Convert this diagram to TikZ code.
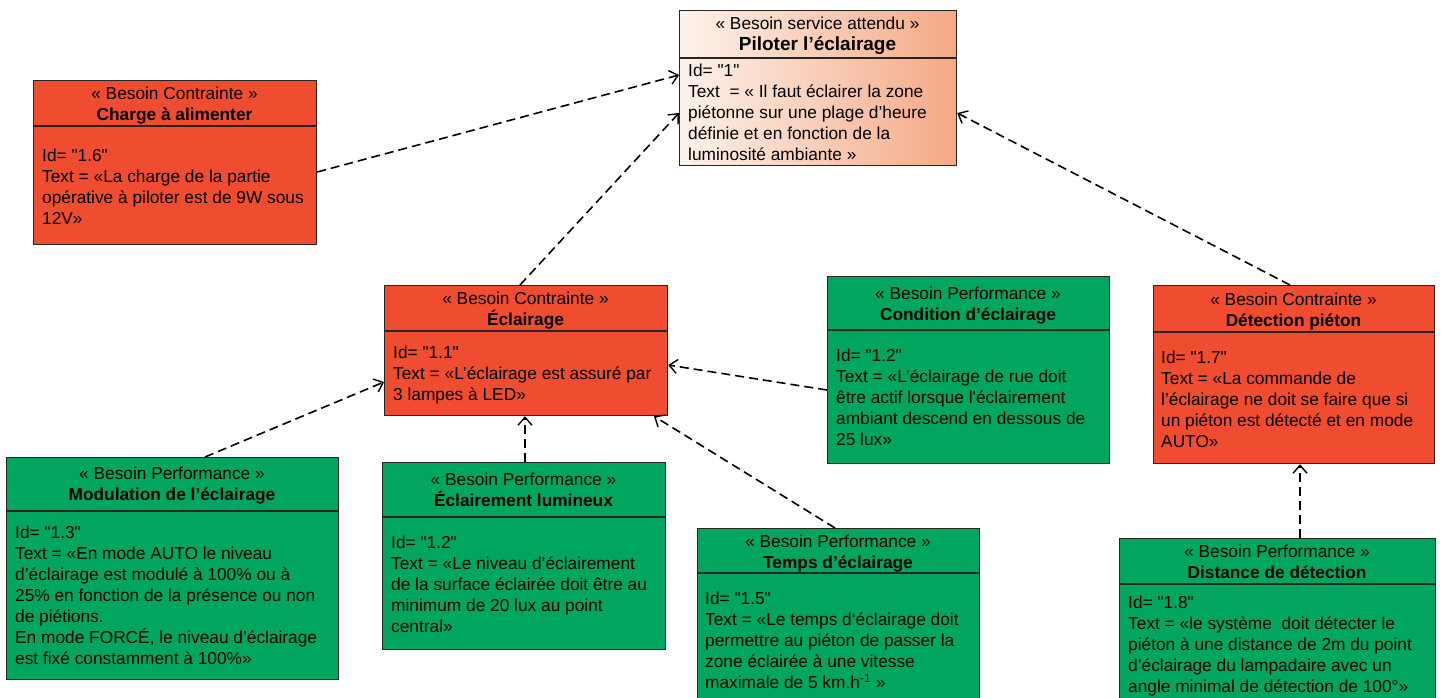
\documentclass[tikz,border=0pt]{standalone}
\usepackage{fontspec}
\newfontfamily\reqfont{Liberation Sans}
\usetikzlibrary{arrows.meta,calc}
\definecolor{reqred}{HTML}{F04C30}
\definecolor{reqgreen}{HTML}{00A660}
\definecolor{pilotL}{HTML}{FDF2EB}
\definecolor{pilotR}{HTML}{F4A985}
\tikzset{
  x=1pt,y=-1pt,
  reqbox/.style={draw=black!85,line width=1.2pt,rectangle,inner sep=0pt,anchor=north west},
  redreq/.style={reqbox,fill=reqred},
  greenreq/.style={reqbox,fill=reqgreen},
  pilotreq/.style={reqbox,left color=pilotL,right color=pilotR},
  divline/.style={draw=black!85,line width=1.2pt},
  hdrtext/.style={anchor=north,align=center,inner sep=0pt,font=\reqfont\fontsize{17.3}{21}\selectfont},
  bodytext/.style={anchor=north west,align=left,inner sep=0pt,font=\reqfont\fontsize{17.3}{21}\selectfont},
  dep/.style={line width=1.6pt,dash pattern=on 9pt off 5pt,-{Straight Barb[length=8pt,width=14pt,line width=1.4pt]}}
}
\begin{document}
\begin{tikzpicture}
\useasboundingbox[fill=white] (0,0) rectangle (1442,697);
\clip (0,0) rectangle (1442,697);

% Piloter l'éclairage
\node[pilotreq,minimum width=277pt,minimum height=155pt] (piloter) at (679,10) {};
\draw[divline] ([yshift=-48pt]piloter.north west) -- ([yshift=-48pt]piloter.north east);
\node[hdrtext] (piloterh) at (817.5,16.8) {« Besoin service attendu »\\{\fontsize{19}{21}\selectfont\textbf{Piloter l’éclairage}}};
\node[bodytext] (piloterb) at (688,63.8) {Id= "1"\\Text\ \ = « Il faut éclairer la zone\\piétonne sur une plage d’heure\\définie et en fonction de la\\luminosité ambiante »};

% Charge à alimenter
\node[redreq,minimum width=283pt,minimum height=164pt] (charge) at (33,80) {};
\draw[divline] ([yshift=-46pt]charge.north west) -- ([yshift=-46pt]charge.north east);
\node[hdrtext] (chargeh) at (174.5,86.8) {« Besoin Contrainte »\\\textbf{Charge à alimenter}};
\node[bodytext] (chargeb) at (42,148.8) {Id= "1.6"\\Text = «La charge de la partie\\opérative à piloter est de 9W sous\\12V»};

% Éclairage
\node[redreq,minimum width=283pt,minimum height=130pt] (eclairage) at (384,285) {};
\draw[divline] ([yshift=-46pt]eclairage.north west) -- ([yshift=-46pt]eclairage.north east);
\node[hdrtext] (eclairageh) at (525.5,291.8) {« Besoin Contrainte »\\\textbf{Éclairage}};
\node[bodytext] (eclairageb) at (393,345.8) {Id= "1.1"\\Text = «L’éclairage est assuré par\\3 lampes à LED»};

% Condition d'éclairage
\node[greenreq,minimum width=282pt,minimum height=187pt] (condition) at (827,276) {};
\draw[divline] ([yshift=-54pt]condition.north west) -- ([yshift=-54pt]condition.north east);
\node[hdrtext] (conditionh) at (968,286.8) {« Besoin Performance »\\\textbf{Condition d’éclairage}};
\node[bodytext] (conditionb) at (836,348.8) {Id= "1.2"\\Text = «L’éclairage de rue doit\\être actif lorsque l'éclairement\\ambiant descend en dessous de\\25 lux»};

% Détection piéton
\node[redreq,minimum width=281pt,minimum height=178pt] (detection) at (1153,285) {};
\draw[divline] ([yshift=-47pt]detection.north west) -- ([yshift=-47pt]detection.north east);
\node[hdrtext] (detectionh) at (1293.5,292.8) {« Besoin Contrainte »\\\textbf{Détection piéton}};
\node[bodytext] (detectionb) at (1161,350.8) {Id= "1.7"\\Text = «La commande de\\l’éclairage ne doit se faire que si\\un piéton est détecté et en mode\\AUTO»};

% Modulation de l'éclairage
\node[greenreq,minimum width=332pt,minimum height=222pt] (modulation) at (6,457) {};
\draw[divline] ([yshift=-54pt]modulation.north west) -- ([yshift=-54pt]modulation.north east);
\node[hdrtext] (modulationh) at (172,466.8) {« Besoin Performance »\\\textbf{Modulation de l’éclairage}};
\node[bodytext] (modulationb) at (15,525.8) {Id= "1.3"\\Text = «En mode AUTO le niveau\\d’éclairage est modulé à 100\% ou à\\25\% en fonction de la présence ou non\\de piétions.\\En mode FORCÉ, le niveau d’éclairage\\est fixé constamment à 100\%»};

% Éclairement lumineux
\node[greenreq,minimum width=283pt,minimum height=187pt] (eclairement) at (382,462) {};
\draw[divline] ([yshift=-55pt]eclairement.north west) -- ([yshift=-55pt]eclairement.north east);
\node[hdrtext] (eclairementh) at (523.5,472.8) {« Besoin Performance »\\\textbf{Éclairement lumineux}};
\node[bodytext] (eclairementb) at (391,535.8) {Id= "1.2"\\Text = «Le niveau d’éclairement\\de la surface éclairée doit être au\\minimum de 20 lux au point\\central»};

% Temps d'éclairage
\node[greenreq,minimum width=282pt,minimum height=180pt] (temps) at (697,528) {};
\draw[divline] ([yshift=-45pt]temps.north west) -- ([yshift=-45pt]temps.north east);
\node[hdrtext] (tempsh) at (838,534.8) {« Besoin Performance »\\\textbf{Temps d’éclairage}};
\node[bodytext] (tempsb) at (705,591.8) {Id= "1.5"\\Text = «Le temps d‘éclairage doit\\permettre au piéton de passer la\\zone éclairée à une vitesse\\maximale de 5 km.h\textsuperscript{-1} »};

% Distance de détection
\node[greenreq,minimum width=316pt,minimum height=170pt] (distance) at (1119,538) {};
\draw[divline] ([yshift=-46pt]distance.north west) -- ([yshift=-46pt]distance.north east);
\node[hdrtext] (distanceh) at (1277,544.8) {« Besoin Performance »\\\textbf{Distance de détection}};
\node[bodytext] (distanceb) at (1128,595.8) {Id= "1.8"\\Text = «le système\ \ doit détecter le\\piéton à une distance de 2m du point\\d’éclairage du lampadaire avec un\\angle minimal de détection de 100°»};

% Connectors
\draw[dep] ([yshift=-92pt]charge.north east) -- ([yshift=-65pt]piloter.north west);
\draw[dep] ([xshift=136pt]eclairage.north west) -- ([yshift=-103pt]piloter.north west);
\draw[dep] ([xshift=137pt]detection.north west) -- ([yshift=-103pt]piloter.north east);
\draw[dep] ([yshift=-114pt]condition.north west) -- ([yshift=-80pt]eclairage.north east);
\draw[dep] ([xshift=199pt]modulation.north west) -- ([yshift=-97pt]eclairage.north west);
\draw[dep] ([xshift=143pt]eclairement.north west) -- ([xshift=141pt]eclairage.south west);
\draw[dep] ([xshift=138pt]temps.north west) -- ([xshift=270pt]eclairage.south west);
\draw[dep] ([xshift=181pt]distance.north west) -- ([xshift=147pt]detection.south west);
\end{tikzpicture}
\end{document}
